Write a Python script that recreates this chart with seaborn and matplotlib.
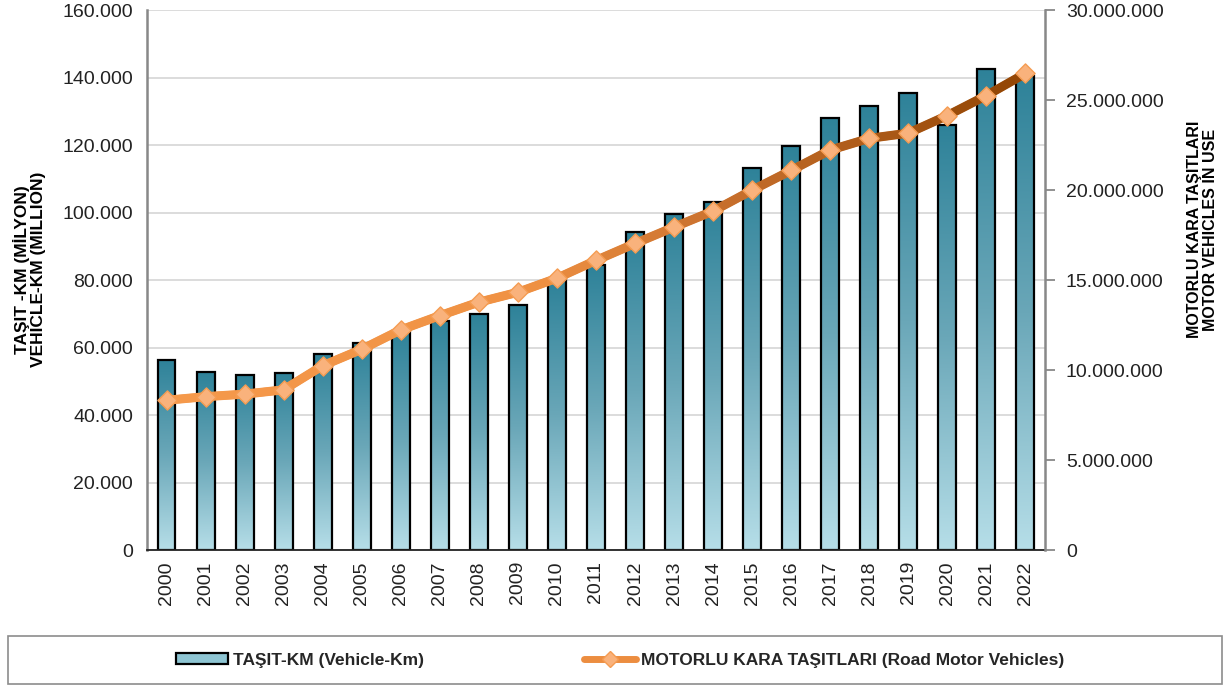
import numpy as np
import pandas as pd
import seaborn as sns
import matplotlib
import matplotlib.pyplot as plt
from matplotlib.colors import LinearSegmentedColormap
from matplotlib.collections import LineCollection
from matplotlib.patches import Patch, Rectangle
from matplotlib.lines import Line2D
from matplotlib.ticker import FuncFormatter, MultipleLocator

matplotlib.use('Agg')

years = [str(y) for y in range(2000, 2023)]
vehicle_km = [56300, 52700, 51850, 52500, 58000, 61200, 64800, 68000, 69900, 72500,
              80000, 84400, 94100, 99600, 103100, 113300, 119800, 128000, 131700,
              135500, 126000, 142400, 140400]
road_vehicles = [8320000, 8520000, 8660000, 8900000, 10240000, 11150000, 12230000,
                 13020000, 13770000, 14320000, 15100000, 16090000, 17030000, 17940000,
                 18830000, 19990000, 21090000, 22220000, 22870000, 23160000, 24140000,
                 25250000, 26480000]

bar_label = "TAŞIT-KM (Vehicle-Km)"
line_label = "MOTORLU KARA TAŞITLARI (Road Motor Vehicles)"

df = pd.DataFrame({'year': years, 'vkm': vehicle_km, 'veh': road_vehicles})
df['pos'] = np.arange(len(df))

sns.set_theme(style='white')
plt.rcParams['font.family'] = ['Liberation Sans', 'DejaVu Sans']

fig = plt.figure(figsize=(12.31, 6.87), dpi=100)
ax = fig.add_axes([0.1194, 0.1994, 0.7295, 0.786])

sns.barplot(data=df, x='year', y='vkm', ax=ax, width=0.46, color='#4a90a5',
            edgecolor='black', linewidth=1.6, zorder=2)

# gradient fill inside every bar (dark teal at top -> light blue at bottom)
bar_cmap = LinearSegmentedColormap.from_list('bars', ['#b6dee8', '#6aa7b8', '#2e8299'])
grad = np.linspace(0, 1, 256).reshape(-1, 1)
for p in ax.patches:
    x0, y0 = p.get_x(), p.get_y()
    w, h = p.get_width(), p.get_height()
    im = ax.imshow(grad, cmap=bar_cmap, aspect='auto', origin='lower',
                   extent=(x0, x0 + w, y0, y0 + h), zorder=1.9)
    im.set_clip_path(p)
    p.set_facecolor('none')

ax.set_xlim(-0.5, len(years) - 0.5)
ax.set_ylim(0, 160000)
ax.yaxis.set_major_locator(MultipleLocator(20000))
ax.yaxis.set_major_formatter(FuncFormatter(lambda v, _: f"{int(v):,}".replace(',', '.')))
ax.grid(axis='y', color='#d9d9d9', lw=1.3, zorder=0)
ax.set_axisbelow(True)
ax.tick_params(axis='y', labelsize=14, colors='#222222', length=0, pad=10)
ax.tick_params(axis='x', labelsize=14, labelrotation=90, colors='#222222', length=0, pad=8)
ax.set_xlabel('')
ax.set_ylabel("TAŞIT -KM (MİLYON)\nVEHICLE-KM (MILLION)", fontsize=12.5,
              fontweight='bold', color='black', linespacing=1.1)
ax.yaxis.label.set_va('center')
ax.yaxis.set_label_coords(-0.131, 0.52)
for s in ['top', 'right']:
    ax.spines[s].set_visible(False)
ax.spines['left'].set_color('#888888')
ax.spines['left'].set_linewidth(1.8)
ax.spines['bottom'].set_color('#222222')
ax.spines['bottom'].set_linewidth(1.3)

ax2 = ax.twinx()
sns.lineplot(data=df, x='pos', y='veh', ax=ax2, color='#ee9042', lw=6, zorder=3)

# colour gradient along the line: orange on the left to brown on the right
line_cmap = LinearSegmentedColormap.from_list(
    'line', [(0, '#f5994b'), (0.42, '#ef9143'), (0.62, '#cd7430'), (1, '#944706')])
pts = np.column_stack([df['pos'], df['veh']])
segs = np.stack([pts[:-1], pts[1:]], axis=1)
lc = LineCollection(segs, colors=line_cmap(np.linspace(0, 1, len(segs))),
                    linewidths=6.5, capstyle='round', joinstyle='round', zorder=4)
ax2.add_collection(lc)

sns.scatterplot(data=df, x='pos', y='veh', ax=ax2, marker='D', s=95,
                color='#f9b27c', edgecolor='#f59c52', linewidth=1.0, zorder=5)

ax2.set_ylim(0, 30000000)
ax2.yaxis.set_major_locator(MultipleLocator(5000000))
ax2.yaxis.set_major_formatter(FuncFormatter(lambda v, _: f"{int(v):,}".replace(',', '.')))
ax2.tick_params(axis='y', labelsize=14, colors='#222222', length=7, width=1.3,
                direction='out', pad=8)
ax2.tick_params(axis='y', which='major', color='#888888')
ax2.set_xlabel('')
ax2.set_ylabel("MOTORLU KARA TAŞITLARI\nMOTOR VEHICLES IN USE", fontsize=11.5,
               fontweight='bold', color='black', linespacing=1.1)
ax2.yaxis.label.set_va('center')
ax2.yaxis.set_label_coords(1.175, 0.593)
ax2.grid(False)
for s in ['top', 'left', 'bottom']:
    ax2.spines[s].set_visible(False)
ax2.spines['right'].set_color('#888888')
ax2.spines['right'].set_linewidth(1.8)
ax2.set_xlim(-0.5, len(years) - 0.5)

# legend box at the bottom
fig.patches.append(Rectangle((0.0065, 0.0044), 0.9862, 0.0698, transform=fig.transFigure,
                             fill=False, edgecolor='#8c8c8c', lw=1.2))
handles = [Patch(facecolor='#8ec5d3', edgecolor='black', lw=1.6),
           Line2D([0], [0], color='#ec8d40', lw=5, marker='D', markersize=8,
                  markerfacecolor='#f9b27c', markeredgecolor='#f59c52')]
fig.legend(handles, [bar_label, line_label], loc='center', bbox_to_anchor=(0.504, 0.039),
           ncol=2, frameon=False, handlelength=3.0, handleheight=0.6, handletextpad=0.3,
           columnspacing=9.2, prop={'size': 12.5, 'weight': 'bold'})

fig.savefig('out.png', dpi=100)
